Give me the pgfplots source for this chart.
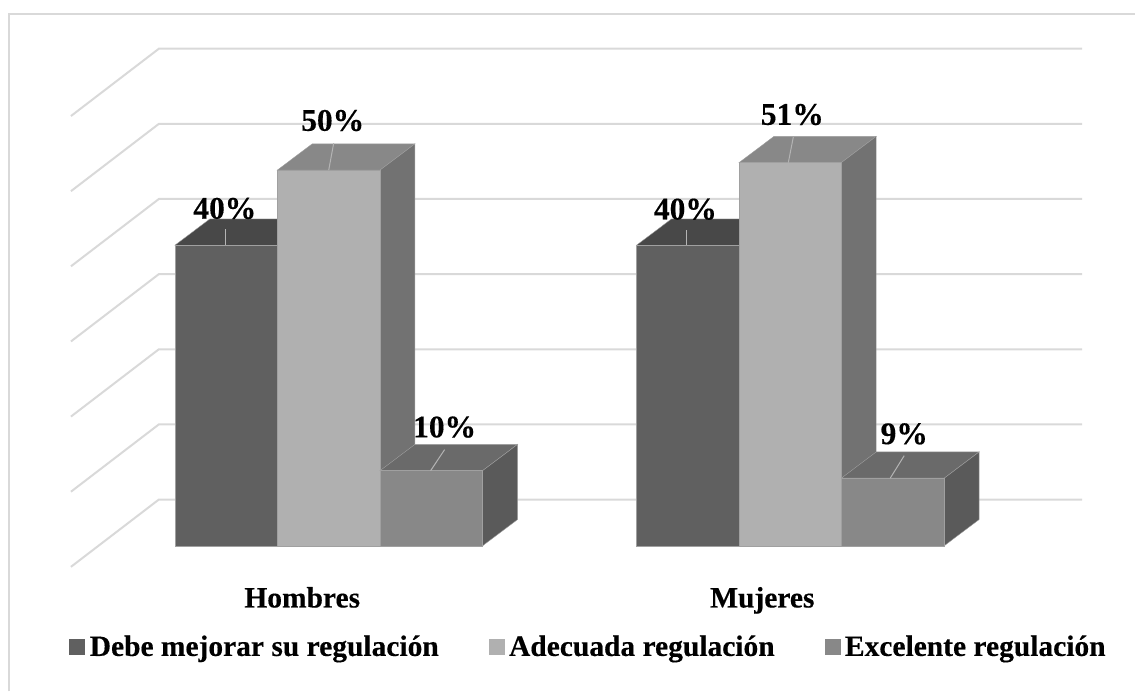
\documentclass[border=0pt]{standalone}
\usepackage{pgfplots}
\pgfplotsset{compat=1.18}
\usepackage{fontspec}
\setmainfont[BoldFeatures={FakeBold=0.35}]{Liberation Serif}
\definecolor{gridc}{HTML}{D9D9D9}
\definecolor{edgec}{HTML}{A0A0A0}
\definecolor{leadc}{HTML}{B4B4B4}
% front, top and side shades of the three series
\definecolor{aF}{HTML}{606060}\definecolor{aT}{HTML}{484848}\definecolor{aS}{HTML}{525252}
\definecolor{bF}{HTML}{B0B0B0}\definecolor{bT}{HTML}{888888}\definecolor{bS}{HTML}{727272}
\definecolor{cF}{HTML}{888888}\definecolor{cT}{HTML}{6A6A6A}\definecolor{cS}{HTML}{5A5A5A}
% one unit on the y axis is 7.52 image pixels; the depth of a column is 35 x 26 px
\def\ddx{35}
\def\ddy{3.5}
% back wall line for value #1
\newcommand{\wallline}[1]{%
  \pgfmathsetmacro{\yb}{#1+6.16}%
  \pgfmathsetmacro{\yf}{#1+6.16-8.96}%
  \addplot[forget plot,gridc,line width=2pt] coordinates {(71,\yf) (159,\yb) (1083,\yb)};
}
% column: left edge #1, right edge #2, value #3, colour prefix #4
\newcommand{\column}[4]{%
  \pgfmathsetmacro{\xa}{#1+\ddx}%
  \pgfmathsetmacro{\xb}{#2+\ddx}%
  \pgfmathsetmacro{\yt}{#3+\ddy}%
  \addplot[forget plot,fill=#4T,draw=edgec,line width=.4pt] coordinates {(#1,#3) (\xa,\yt) (\xb,\yt) (#2,#3)} --cycle;
  \addplot[forget plot,fill=#4S,draw=edgec,line width=.4pt] coordinates {(#2,0) (\xb,\ddy) (\xb,\yt) (#2,#3)} --cycle;
  \addplot[forget plot,fill=#4F,draw=edgec,line width=.4pt] coordinates {(#1,0) (#2,0) (#2,#3) (#1,#3)} --cycle;
}
% leader line under a value label
\newcommand{\leader}[4]{%
  \addplot[forget plot,leadc,line width=1pt] coordinates {(#1,#2) (#3,#4)};
}
\newcommand{\vallabel}[3]{\node[font=\fontsize{31.5}{32}\selectfont\bfseries,anchor=center,inner sep=0pt] at (axis cs:#1,#2) {#3};}
\begin{document}
\begin{tikzpicture}
\begin{axis}[
  scale only axis,
  width=1136pt,height=692pt,
  xmin=0,xmax=1136,
  ymin=-19.375,ymax=72.646,
  axis line style={draw=none},
  major tick style={draw=none},
  ytick=\empty,
  xtick={302.5,763},
  xticklabels={Hombres,Mujeres},
  xtick pos=bottom,
  xticklabel style={font=\fontsize{29.5}{30}\selectfont\bfseries,anchor=base,yshift=84pt},
  clip=false,
  legend columns=3,
  legend cell align=left,
  legend image code/.code={\fill[#1] (0pt,-7.5pt) rectangle (15pt,7.5pt);},
  legend style={draw=none,fill=none,inner sep=0pt,outer sep=0pt,
    at={(588/1136,45/692)},anchor=center,
    font=\fontsize{29.5}{30}\selectfont\bfseries,
    /tikz/column 2/.style={column sep=50pt},
    /tikz/column 4/.style={column sep=50pt},
    nodes={inner sep=0pt,outer sep=0pt},
  },
]
% outer frame of the chart area
\addplot[forget plot,gridc,line width=2pt] coordinates {(9,-19.375) (9,70.8) (1136,70.8)};
% back wall
\wallline{0}\wallline{10}\wallline{20}\wallline{30}\wallline{40}\wallline{50}\wallline{60}
% Hombres
\column{175}{277.5}{40}{a}
\column{277.5}{380.3}{50}{b}
\column{380.3}{483}{10}{c}
% Mujeres
\column{637}{739.7}{40}{a}
\column{739.7}{842}{51}{b}
\column{842}{945}{9}{c}
% leader lines
\leader{226}{40}{226}{42.1}
\leader{329}{50}{334}{53.6}
\leader{431}{10}{445}{12.8}
\leader{687}{40}{687}{42}
\leader{789}{51}{794}{54.4}
\leader{891}{9}{905}{12}
% value labels
\vallabel{225}{44.9}{40\%}
\vallabel{333}{56.6}{50\%}
\vallabel{445}{15.8}{10\%}
\vallabel{686}{44.8}{40\%}
\vallabel{793}{57.4}{51\%}
\vallabel{905}{14.9}{9\%}
% legend keys
\addlegendimage{aF}\addlegendentry{\hspace{5pt}Debe mejorar su regulación}
\addlegendimage{bF}\addlegendentry{\hspace{5pt}Adecuada regulación}
\addlegendimage{cF}\addlegendentry{\hspace{5pt}Excelente regulación}
\end{axis}
\end{tikzpicture}
\end{document}
